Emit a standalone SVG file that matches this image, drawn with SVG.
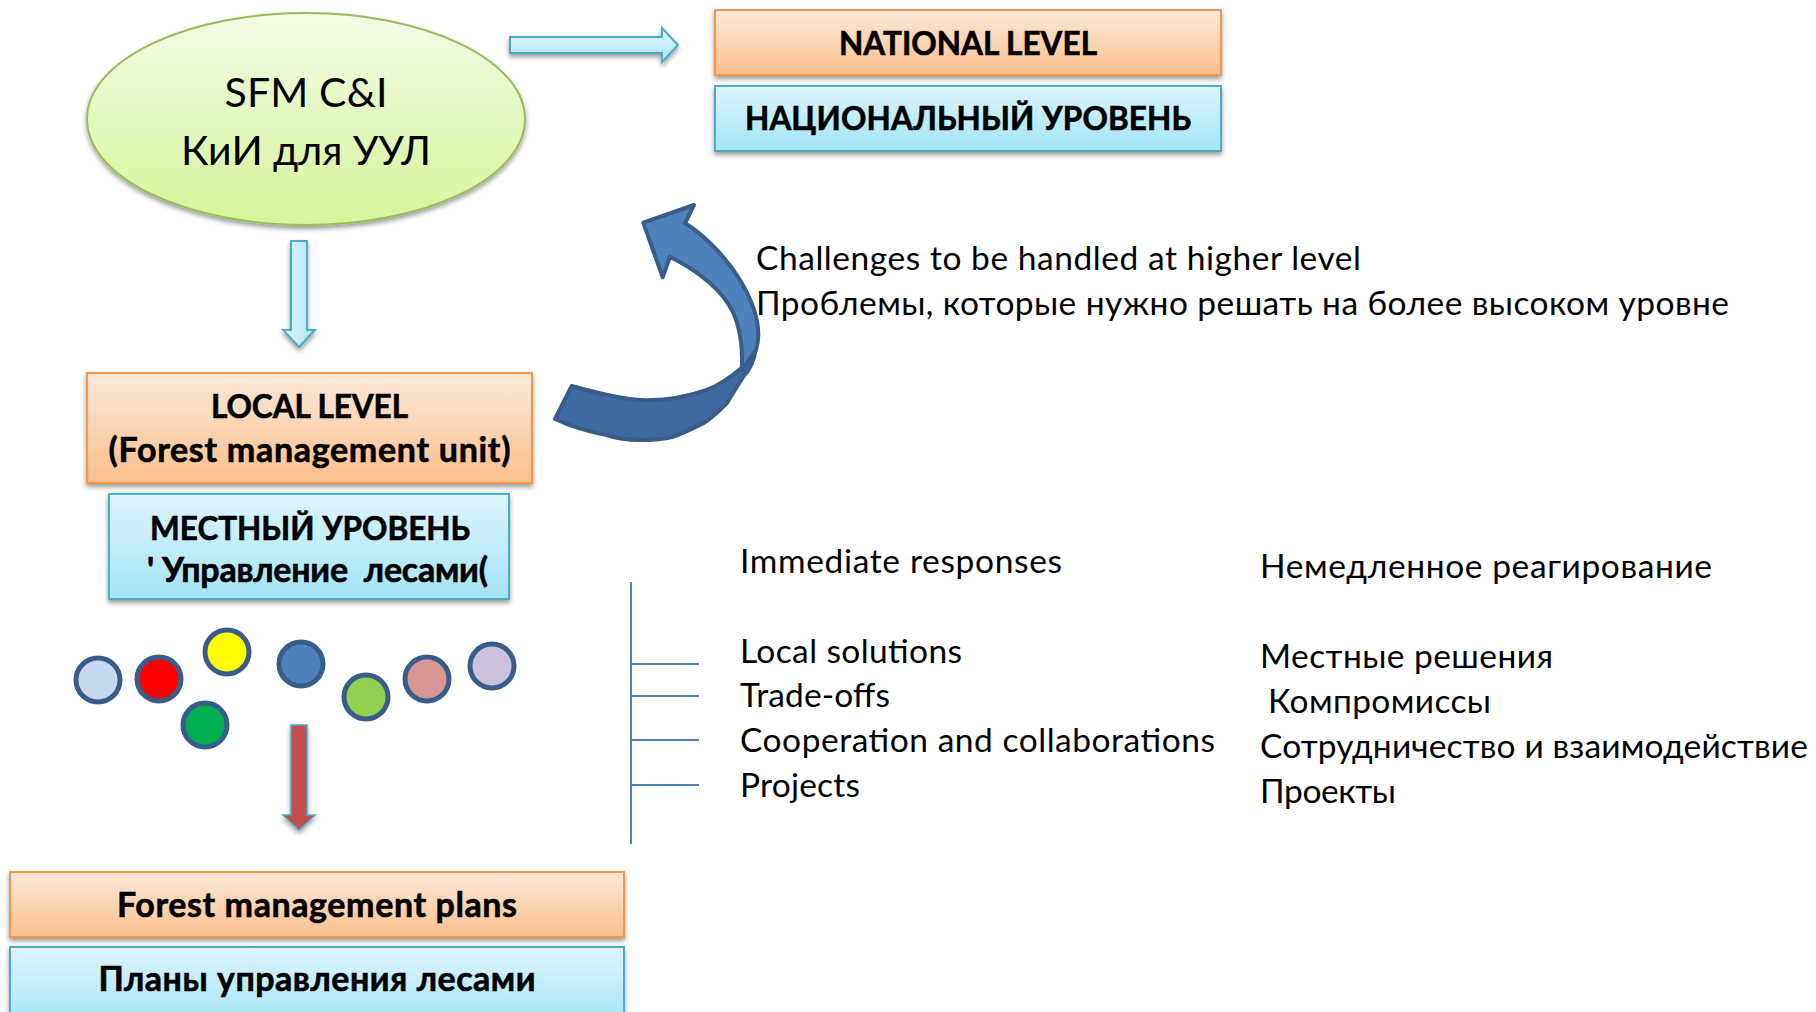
<svg xmlns="http://www.w3.org/2000/svg" width="1816" height="1012" viewBox="0 0 1816 1012">
<defs>
  <linearGradient id="gOrange" x1="0" y1="0" x2="0" y2="1">
    <stop offset="0" stop-color="#fde9da"/>
    <stop offset="1" stop-color="#fbbf8c"/>
  </linearGradient>
  <linearGradient id="gBlue" x1="0" y1="0" x2="0" y2="1">
    <stop offset="0" stop-color="#def5fc"/>
    <stop offset="1" stop-color="#a3e4f8"/>
  </linearGradient>
  <linearGradient id="gGreen" x1="0" y1="0" x2="0" y2="1">
    <stop offset="0" stop-color="#f3fbe6"/>
    <stop offset="1" stop-color="#d5f59a"/>
  </linearGradient>
  <linearGradient id="gArrow" x1="0" y1="0" x2="0" y2="1">
    <stop offset="0" stop-color="#e2f6fc"/>
    <stop offset="1" stop-color="#ace2f3"/>
  </linearGradient>
  <linearGradient id="gArrowV" x1="0" y1="0" x2="1" y2="0">
    <stop offset="0" stop-color="#e2f6fc"/>
    <stop offset="1" stop-color="#ace2f3"/>
  </linearGradient>
  <filter id="shadow" x="-10%" y="-10%" width="120%" height="130%">
    <feGaussianBlur in="SourceAlpha" stdDeviation="2.5"/>
    <feOffset dx="0" dy="3" result="b"/>
    <feComponentTransfer><feFuncA type="linear" slope="0.4"/></feComponentTransfer>
    <feMerge><feMergeNode/><feMergeNode in="SourceGraphic"/></feMerge>
  </filter>
  <style>
    .t { font-family: Lato, "Open Sans", "Noto Sans", sans-serif; fill: #000; }
    .b { font-weight: bold; font-size: 34px; stroke: #000; stroke-width: 0.6; }
    .c { font-size: 31.5px; }
    .n { font-size: 33.5px; }
    .orange { fill: url(#gOrange); stroke: #f79646; stroke-width: 2; }
    .blue { fill: url(#gBlue); stroke: #4bacc6; stroke-width: 2; }
    .dot { stroke: #385d8a; stroke-width: 5; }
    .tick { stroke: #4f81bd; stroke-width: 2; fill: none; }
  </style>
</defs>
<rect width="1816" height="1012" fill="#ffffff"/>

<g id="sfm">
  <ellipse cx="306" cy="119" rx="219" ry="106" fill="url(#gGreen)" stroke="#9bbb59" stroke-width="2" filter="url(#shadow)"/>
  <text class="t" x="306" y="107" text-anchor="middle" font-size="41" textLength="163">SFM C&amp;I</text>
  <text class="t" x="306" y="165" text-anchor="middle" font-size="41" textLength="250">КиИ для УУЛ</text>
</g>

<g id="national">
  <rect class="orange" x="715" y="10" width="506" height="65" filter="url(#shadow)"/>
  <text class="t b c" x="968" y="55" text-anchor="middle" textLength="258">NATIONAL LEVEL</text>
</g>
<g id="national-ru">
  <rect class="blue" x="715" y="86" width="506" height="65" filter="url(#shadow)"/>
  <text class="t b c" x="968" y="130" text-anchor="middle" textLength="446">НАЦИОНАЛЬНЫЙ УРОВЕНЬ</text>
</g>

<g id="local">
  <rect class="orange" x="87" y="373" width="445" height="110" filter="url(#shadow)"/>
  <text class="t b c" x="309.5" y="418" text-anchor="middle" textLength="197">LOCAL LEVEL</text>
  <text class="t b" x="309.5" y="462" text-anchor="middle" textLength="402">(Forest management unit)</text>
</g>
<g id="local-ru">
  <rect class="blue" x="109" y="494" width="400" height="105" filter="url(#shadow)"/>
  <text class="t b c" x="310" y="540" text-anchor="middle" textLength="320">МЕСТНЫЙ УРОВЕНЬ</text>
  <text class="t b" x="317.5" y="582" text-anchor="middle" textLength="341" xml:space="preserve">' Управление  лесами(</text>
</g>

<g id="stakeholders">
  <circle class="dot" cx="98" cy="680" r="22" fill="#c6d9f1"/>
  <circle class="dot" cx="159" cy="679" r="22" fill="#ff0000"/>
  <circle class="dot" cx="227" cy="652" r="22" fill="#ffff00"/>
  <circle class="dot" cx="205" cy="725" r="22" fill="#00b050"/>
  <circle class="dot" cx="301" cy="664" r="22" fill="#4f81bd"/>
  <circle class="dot" cx="366" cy="697" r="22" fill="#92d050"/>
  <circle class="dot" cx="427" cy="679" r="22" fill="#d99694"/>
  <circle class="dot" cx="492" cy="666" r="22" fill="#ccc1da"/>
</g>

<g id="plans">
  <rect class="orange" x="10" y="872" width="614" height="65" filter="url(#shadow)"/>
  <text class="t b" x="317" y="917" text-anchor="middle" textLength="400">Forest management plans</text>
</g>
<g id="plans-ru">
  <rect class="blue" x="10" y="947" width="614" height="80" filter="url(#shadow)"/>
  <text class="t b" x="317" y="991" text-anchor="middle" textLength="437">Планы управления лесами</text>
</g>

<g id="challenges">
  <text class="t n" x="756" y="270" textLength="605">Challenges to be handled at higher level</text>
  <text class="t n" x="756" y="315" textLength="973">Проблемы, которые нужно решать на более высоком уровне</text>
</g>

<g id="responses-en">
  <text class="t n" x="740" y="573" textLength="322">Immediate responses</text>
  <text class="t n" x="740" y="663" textLength="222">Local solutions</text>
  <text class="t n" x="740" y="707" textLength="150">Trade-offs</text>
  <text class="t n" x="740" y="752" textLength="475">Cooperation and collaborations</text>
  <text class="t n" x="740" y="797" textLength="120">Projects</text>
</g>

<g id="responses-ru">
  <text class="t n" x="1260" y="578" textLength="452">Немедленное реагирование</text>
  <text class="t n" x="1260" y="668" textLength="293">Местные решения</text>
  <text class="t n" x="1268" y="713" textLength="223">Компромиссы</text>
  <text class="t n" x="1260" y="758" textLength="548">Сотрудничество и взаимодействие</text>
  <text class="t n" x="1260" y="803" textLength="136">Проекты</text>
</g>

<g id="connectors">
  <path d="M510,37 L662,37 L662,28 L678,45 L662,62 L662,53 L510,53 Z" fill="url(#gArrow)" stroke="#4bacc6" stroke-width="2" filter="url(#shadow)"/>
  <path d="M291,241 L307,241 L307,330 L315,330 L299,347 L283,330 L291,330 Z" fill="url(#gArrowV)" stroke="#4bacc6" stroke-width="2" filter="url(#shadow)"/>
  <path d="M291,725 L307,725 L307,815 L315,815 L299,830 L283,815 L291,815 Z" fill="#c0504d" stroke="#4bacc6" stroke-width="1.5" filter="url(#shadow)"/>
  <path d="M555,419 L571.7,386 C590,391 620,399 640,400 C665,401 690,396 706.7,390 C720,385 732,376 741.7,368 L756,348 C754,362 750,370 743.3,376.7 C736,388 730,398 726.7,403.3 C718,412 712,418 703.3,423.3 C690,430 682,434 673.3,436.7 C660,440 650,440 640,440 C625,440 615,438 606.7,435 C590,432 570,426 555,419 Z" fill="#3f6aa1" stroke="#385d8a" stroke-width="4" stroke-linejoin="round"/>
  <path d="M643.3,222.7 L694,205 L685,223.3 C700,232 725,255 740,280 C752,300 758,318 758.3,333.3 C758.5,340 757.5,345 756,350 L741.7,370 C743,350 741,330 733,312 C722,290 700,272 670,256.7 L662.7,277.3 Z" fill="#4f81bd" stroke="#385d8a" stroke-width="4" stroke-linejoin="round"/>
  <line class="tick" x1="631" y1="582" x2="631" y2="844"/>
  <line class="tick" x1="631" y1="664" x2="699" y2="664"/>
  <line class="tick" x1="631" y1="696" x2="699" y2="696"/>
  <line class="tick" x1="631" y1="740" x2="699" y2="740"/>
  <line class="tick" x1="631" y1="785" x2="699" y2="785"/>
</g>
</svg>
